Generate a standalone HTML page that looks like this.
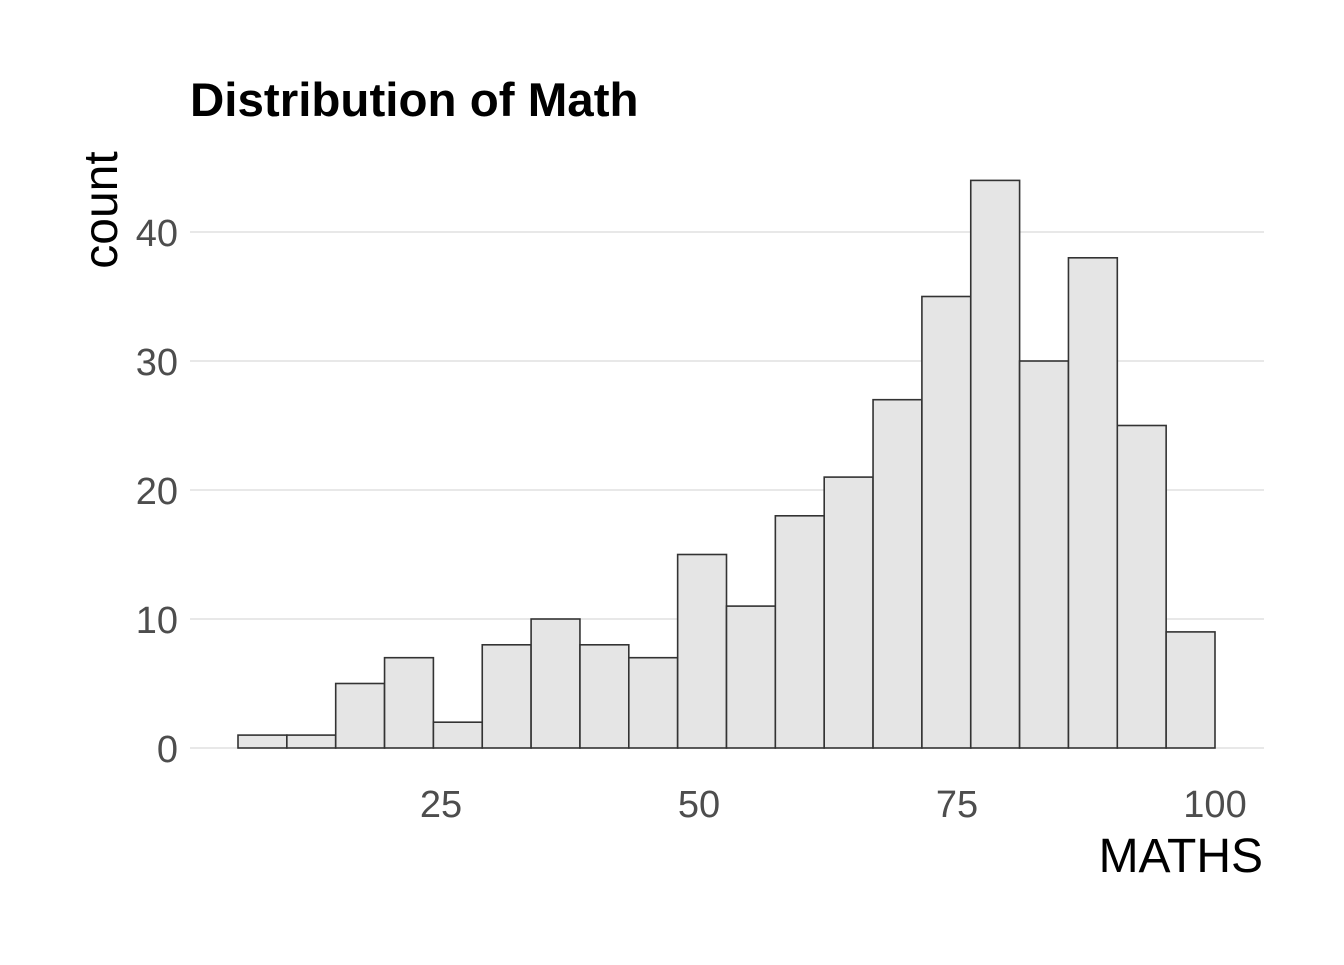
<!DOCTYPE html>
<html><head><meta charset="utf-8"><style>body{margin:0;background:#fff}</style></head><body>
<svg width="1344" height="960" xmlns="http://www.w3.org/2000/svg" font-family="Liberation Sans, Arial, sans-serif">
<rect width="1344" height="960" fill="#fff"/>
<g stroke="#d0d0d0" stroke-width="1.1">
<line x1="190" x2="1264" y1="748" y2="748"/>
<line x1="190" x2="1264" y1="619" y2="619"/>
<line x1="190" x2="1264" y1="490" y2="490"/>
<line x1="190" x2="1264" y1="361" y2="361"/>
<line x1="190" x2="1264" y1="232" y2="232"/>
</g>
<g fill="#e5e5e5" stroke="#333" stroke-width="1.6">
<rect x="238" y="735.1" width="48.85" height="12.9"/>
<rect x="286.85" y="735.1" width="48.85" height="12.9"/>
<rect x="335.7" y="683.5" width="48.85" height="64.5"/>
<rect x="384.55" y="657.7" width="48.85" height="90.3"/>
<rect x="433.4" y="722.2" width="48.85" height="25.8"/>
<rect x="482.25" y="644.8" width="48.85" height="103.2"/>
<rect x="531.1" y="619" width="48.85" height="129"/>
<rect x="579.95" y="644.8" width="48.85" height="103.2"/>
<rect x="628.8" y="657.7" width="48.85" height="90.3"/>
<rect x="677.65" y="554.5" width="48.85" height="193.5"/>
<rect x="726.5" y="606.1" width="48.85" height="141.9"/>
<rect x="775.35" y="515.8" width="48.85" height="232.2"/>
<rect x="824.2" y="477.1" width="48.85" height="270.9"/>
<rect x="873.05" y="399.7" width="48.85" height="348.3"/>
<rect x="921.9" y="296.5" width="48.85" height="451.5"/>
<rect x="970.75" y="180.4" width="48.85" height="567.6"/>
<rect x="1019.6" y="361" width="48.85" height="387"/>
<rect x="1068.45" y="257.8" width="48.85" height="490.2"/>
<rect x="1117.3" y="425.5" width="48.85" height="322.5"/>
<rect x="1166.15" y="631.9" width="48.85" height="116.1"/>
</g>
<g fill="#4d4d4d" font-size="38" text-anchor="end">
<text x="178" y="762">0</text><text x="178" y="633">10</text><text x="178" y="504">20</text><text x="178" y="375">30</text><text x="178" y="246">40</text>
</g>
<g fill="#4d4d4d" font-size="38" text-anchor="middle">
<text x="441" y="817">25</text><text x="699" y="817">50</text><text x="957" y="817">75</text><text x="1215" y="817">100</text>
</g>
<text x="1263" y="872" font-size="48" text-anchor="end" fill="#000">MATHS</text>
<text transform="translate(117,210) rotate(-90)" font-size="48" text-anchor="middle" fill="#000">count</text>
<text x="190" y="116" font-size="47.5" font-weight="bold" fill="#000">Distribution of Math</text>
</svg>
</body></html>
